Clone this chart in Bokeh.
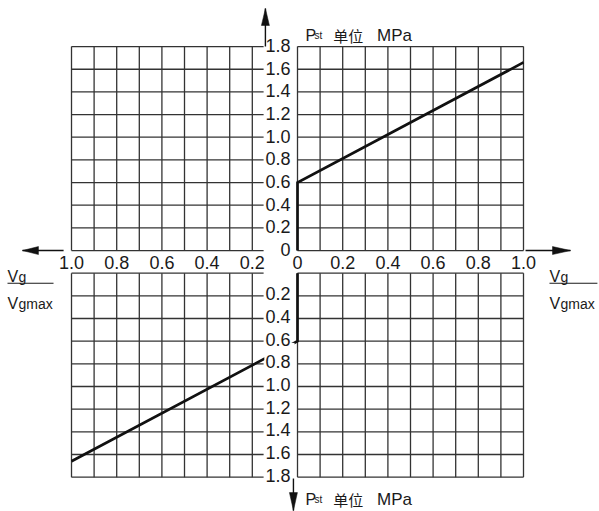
from bokeh.plotting import figure
from bokeh.models import Range1d
from bokeh.embed import file_html
from bokeh.resources import INLINE
from bokeh.core.properties import value

# ---------------- data ----------------
# V/Vgmax tick labels (right half positive, left half mirrored)
v_ticks_right = [0.0, 0.2, 0.4, 0.6, 0.8, 1.0]
v_ticks_left = [1.0, 0.8, 0.6, 0.4, 0.2]
v_tick_text_right = ["0", "0.2", "0.4", "0.6", "0.8", "1.0"]
v_tick_text_left = ["1.0", "0.8", "0.6", "0.4", "0.2"]
# Pst tick labels (MPa)
p_ticks_top = [0.0, 0.2, 0.4, 0.6, 0.8, 1.0, 1.2, 1.4, 1.6, 1.8]
p_tick_text_top = ["0", "0.2", "0.4", "0.6", "0.8", "1.0", "1.2", "1.4", "1.6", "1.8"]
p_ticks_bottom = [0.2, 0.4, 0.6, 0.8, 1.0, 1.2, 1.4, 1.6, 1.8]
p_tick_text_bottom = ["0.2", "0.4", "0.6", "0.8", "1.0", "1.2", "1.4", "1.6", "1.8"]
# grid
v_grid_right = [0.0, 0.1, 0.2, 0.3, 0.4, 0.5, 0.6, 0.7, 0.8, 0.9, 1.0]
v_grid_left = [1.0, 0.9, 0.8, 0.7, 0.6, 0.5, 0.4, 0.3, 0.2]
p_grid = [0.0, 0.2, 0.4, 0.6, 0.8, 1.0, 1.2, 1.4, 1.6, 1.8]
# characteristic curve: Pst vs Vg/Vgmax
curve_v = [0.0, 0.0, 1.0]
curve_p = [0.0, 0.6, 1.66]

# ---------------- layout constants ----------------
GAP = 0.2          # band between upper and lower quadrants (holds x labels)
LEFT_END = -0.15   # where left grid rows stop (label column)
LABEL_X = -0.031
FONT = "Liberation Sans"
GRID_COLOR = "#333333"
INK = "#1a1a1a"

p = figure(width=599, height=511, output_backend="svg", toolbar_location=None,
           x_range=Range1d(-1.3142, 1.3363), y_range=Range1d(-2.303, 2.2065),
           min_border=0, x_axis_location=None, y_axis_location=None)
p.grid.visible = False
p.outline_line_color = None
p.background_fill_color = "white"
p.border_fill_color = "white"


def top(pv):
    return list(pv)


def bot(pv):
    return [-v - GAP for v in pv]


def neg(vs):
    return [-v for v in vs]


# ---- grid: vertical lines ----
for ys0, ys1 in ((0.0, 1.8), (-GAP, -1.8 - GAP)):
    p.segment(x0=v_grid_right, y0=[ys0] * len(v_grid_right), x1=v_grid_right,
              y1=[ys1] * len(v_grid_right), line_color=GRID_COLOR, line_width=1.3)
    p.segment(x0=neg(v_grid_left), y0=[ys0] * len(v_grid_left), x1=neg(v_grid_left),
              y1=[ys1] * len(v_grid_left), line_color=GRID_COLOR, line_width=1.3)

# ---- grid: horizontal lines ----
for ys in (top(p_grid), bot(p_grid)):
    n = len(ys)
    p.segment(x0=[0.0] * n, y0=ys, x1=[1.0] * n, y1=ys, line_color=GRID_COLOR, line_width=1.3)
    p.segment(x0=[-1.0] * n, y0=ys, x1=[LEFT_END] * n, y1=ys, line_color=GRID_COLOR, line_width=1.3)

# ---- characteristic curve ----
p.line(x=curve_v, y=top(curve_p), line_color="#111111", line_width=2.7, line_join="miter")
p.line(x=neg(curve_v), y=bot(curve_p), line_color="#111111", line_width=2.7, line_join="miter")
# label column mask in lower half
p.quad(left=[-0.147], right=[-0.013], top=[-0.615 - GAP], bottom=[-0.82 - GAP],
       fill_color="white", line_color=None)

# ---- tick labels ----
TICK_FS = "18px"
p.text(x=[LABEL_X] * len(p_ticks_top), y=top(p_ticks_top), text=p_tick_text_top,
       text_font=value(FONT), text_font_size=TICK_FS, text_align="right",
       text_baseline="middle", text_color=INK, y_offset=-1)
p.text(x=[LABEL_X] * len(p_ticks_bottom), y=bot(p_ticks_bottom), text=p_tick_text_bottom,
       text_font=value(FONT), text_font_size=TICK_FS, text_align="right",
       text_baseline="middle", text_color=INK, y_offset=-2)
p.text(x=v_ticks_right, y=[-GAP / 2] * len(v_ticks_right), text=v_tick_text_right,
       text_font=value(FONT), text_font_size=TICK_FS, text_align="center",
       text_baseline="middle", text_color=INK, y_offset=1)
p.text(x=neg(v_ticks_left), y=[-GAP / 2] * len(v_ticks_left), text=v_tick_text_left,
       text_font=value(FONT), text_font_size=TICK_FS, text_align="center",
       text_baseline="middle", text_color=INK, y_offset=1)

# ---- arrows ----
PX_X = 2.6505 / 599
PX_Y = 4.5095 / 511


def arrow(x0, y0, x1, y1, head_len, head_w):
    p.segment(x0=[x0], y0=[y0], x1=[x1], y1=[y1], line_color="#111111", line_width=1.4)
    if x0 == x1:
        d = 1 if y1 > y0 else -1
        xs = [x1, x1 - head_w / 2 * PX_X, x1 + head_w / 2 * PX_X]
        ys = [y1, y1 - d * head_len * PX_Y, y1 - d * head_len * PX_Y]
    else:
        d = 1 if x1 > x0 else -1
        xs = [x1, x1 - d * head_len * PX_X, x1 - d * head_len * PX_X]
        ys = [y1, y1 - head_w / 2 * PX_Y, y1 + head_w / 2 * PX_Y]
    p.patch(x=xs, y=ys, fill_color="#111111", line_color="#111111", line_width=0.5)


arrow(-0.142, 1.80, -0.142, 2.136, 17, 8)        # up
arrow(-0.018, -2.012, -0.018, -2.295, 18, 8)     # down
arrow(-1.035, 0.0, -1.217, 0.0, 16, 8)           # left
arrow(1.009, 0.0, 1.208, 0.0, 18, 8)             # right

# ---- axis titles: Pst 单位 MPa ----
for base in (1.8933, -2.1965):
    p.text(x=[0.0354], y=[base], text=["P"], text_font=value(FONT), text_font_size="16px",
           text_baseline="alphabetic", text_color=INK)
    p.text(x=[0.0750], y=[base], text=["st"], text_font=value(FONT), text_font_size="10px",
           text_baseline="alphabetic", text_color=INK)
    p.text(x=[0.158], y=[base], text=["单位"], text_font=value("Noto Sans CJK SC"),
           text_font_size="15px", text_baseline="alphabetic", text_color=INK)
    p.text(x=[0.352], y=[base], text=["MPa"], text_font=value(FONT), text_font_size="17px",
           text_baseline="alphabetic", text_color=INK)

# ---- axis titles: Vg / Vgmax ----
for xv, xg, xb1 in ((-1.2832, -1.2345, -1.0796), (1.115, 1.164, 1.327)):
    p.text(x=[xv], y=[-0.2295], text=["V"], text_font=value(FONT), text_font_size="16px",
           text_baseline="alphabetic", text_color=INK)
    p.text(x=[xg], y=[-0.2295], text=["g"], text_font=value(FONT), text_font_size="14px",
           text_baseline="alphabetic", text_color=INK)
    p.segment(x0=[xv], y0=[-0.2886], x1=[xb1], y1=[-0.2886], line_color=INK, line_width=1.1)
    p.text(x=[xv], y=[-0.4678], text=["V"], text_font=value(FONT), text_font_size="16px",
           text_baseline="alphabetic", text_color=INK)
    p.text(x=[xg], y=[-0.4678], text=["gmax"], text_font=value(FONT), text_font_size="14px",
           text_baseline="alphabetic", text_color=INK)

open("out.html", "w").write(file_html(p, INLINE))
